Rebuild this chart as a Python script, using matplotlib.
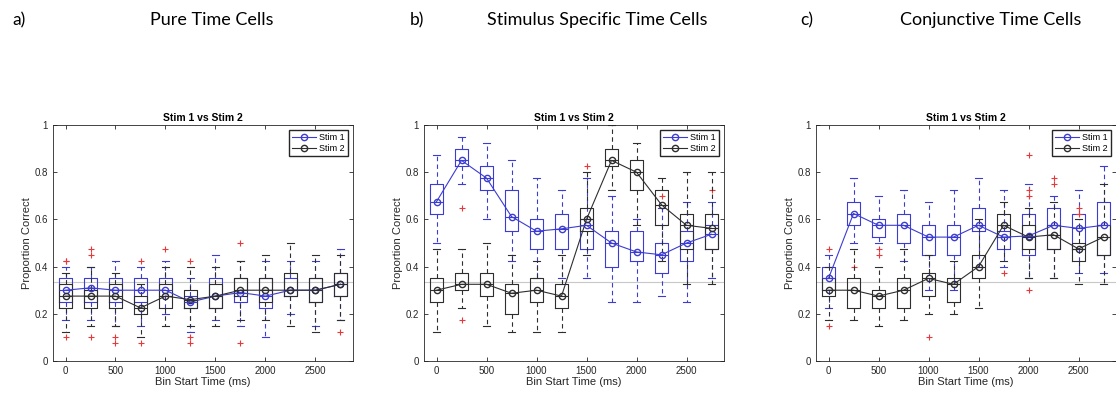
"""Stim 1 vs Stim 2 decoding boxplots for three time-cell groups."""
import matplotlib.pyplot as plt

BLUE = "#3c3cd2"
BLACK = "#2e2e2e"
RED = "#e8383d"
CHANCE = "#c8c8c8"

BINS = [0, 250, 500, 750, 1000, 1250, 1500, 1750, 2000, 2250, 2500, 2750]

# each bin: (whisker low, q1, median, q3, whisker high)
A_STIM1 = [(0.175, 0.25, 0.30, 0.35, 0.40), (0.175, 0.25, 0.31, 0.35, 0.40),
           (0.15, 0.25, 0.30, 0.35, 0.425), (0.15, 0.25, 0.30, 0.35, 0.40),
           (0.20, 0.275, 0.30, 0.35, 0.425), (0.125, 0.225, 0.25, 0.275, 0.35),
           (0.175, 0.225, 0.275, 0.35, 0.45), (0.15, 0.25, 0.29, 0.35, 0.425),
           (0.10, 0.225, 0.275, 0.35, 0.425), (0.20, 0.275, 0.30, 0.35, 0.425),
           (0.15, 0.25, 0.30, 0.35, 0.425), (0.175, 0.275, 0.325, 0.375, 0.475)]
A_STIM2 = [(0.125, 0.225, 0.275, 0.325, 0.375), (0.15, 0.225, 0.275, 0.30, 0.40),
           (0.15, 0.225, 0.275, 0.325, 0.375), (0.10, 0.20, 0.225, 0.275, 0.325),
           (0.15, 0.225, 0.275, 0.325, 0.40), (0.15, 0.225, 0.26, 0.30, 0.40),
           (0.15, 0.225, 0.275, 0.325, 0.40), (0.175, 0.275, 0.30, 0.35, 0.425),
           (0.175, 0.25, 0.30, 0.35, 0.45), (0.15, 0.275, 0.30, 0.375, 0.50),
           (0.125, 0.25, 0.30, 0.35, 0.45), (0.175, 0.275, 0.325, 0.375, 0.45)]
A_OUT1 = [[0.425], [0.45, 0.475], [], [0.425], [0.475], [0.075, 0.10],
          [], [0.50], [], [], [], []]
A_OUT2 = [[0.10, 0.425], [0.10], [0.075, 0.10], [0.075], [], [0.425],
          [], [0.075], [], [], [], [0.125]]

B_STIM1 = [(0.50, 0.625, 0.675, 0.75, 0.875), (0.75, 0.825, 0.85, 0.90, 0.95),
           (0.60, 0.725, 0.775, 0.825, 0.925), (0.425, 0.55, 0.612, 0.725, 0.85),
           (0.35, 0.475, 0.55, 0.60, 0.775), (0.35, 0.475, 0.56, 0.625, 0.725),
           (0.35, 0.475, 0.575, 0.60, 0.775), (0.25, 0.40, 0.50, 0.55, 0.70),
           (0.25, 0.425, 0.462, 0.55, 0.60), (0.275, 0.375, 0.45, 0.50, 0.65),
           (0.25, 0.425, 0.50, 0.55, 0.675), (0.35, 0.475, 0.537, 0.575, 0.675)]
B_STIM2 = [(0.125, 0.25, 0.30, 0.35, 0.475), (0.225, 0.30, 0.325, 0.375, 0.475),
           (0.15, 0.275, 0.325, 0.375, 0.50), (0.125, 0.20, 0.287, 0.325, 0.45),
           (0.125, 0.25, 0.30, 0.35, 0.425), (0.125, 0.225, 0.275, 0.325, 0.45),
           (0.45, 0.55, 0.60, 0.65, 0.80), (0.725, 0.825, 0.85, 0.90, 1.0),
           (0.575, 0.725, 0.80, 0.85, 0.925), (0.425, 0.575, 0.662, 0.725, 0.775),
           (0.325, 0.475, 0.575, 0.625, 0.80), (0.325, 0.475, 0.562, 0.625, 0.80)]
B_OUT1 = [[], [0.65], [], [], [], [], [], [], [], [0.70], [], [0.725]]
B_OUT2 = [[], [0.175], [], [], [], [], [0.825], [], [], [], [], []]

C_STIM1 = [(0.225, 0.30, 0.35, 0.40, 0.45), (0.50, 0.575, 0.625, 0.675, 0.775),
           (0.50, 0.525, 0.575, 0.60, 0.70), (0.425, 0.50, 0.575, 0.625, 0.725),
           (0.30, 0.45, 0.525, 0.575, 0.675), (0.30, 0.45, 0.525, 0.575, 0.725),
           (0.40, 0.55, 0.575, 0.65, 0.775), (0.40, 0.475, 0.525, 0.55, 0.725),
           (0.35, 0.45, 0.53, 0.625, 0.75), (0.35, 0.475, 0.575, 0.65, 0.70),
           (0.375, 0.475, 0.562, 0.625, 0.725), (0.375, 0.45, 0.575, 0.675, 0.825)]
C_STIM2 = [(0.175, 0.275, 0.30, 0.35, 0.40), (0.175, 0.225, 0.30, 0.35, 0.475),
           (0.15, 0.225, 0.275, 0.30, 0.40), (0.175, 0.225, 0.30, 0.35, 0.475),
           (0.20, 0.275, 0.35, 0.375, 0.45), (0.20, 0.25, 0.325, 0.35, 0.425),
           (0.225, 0.35, 0.40, 0.45, 0.60), (0.425, 0.525, 0.575, 0.625, 0.675),
           (0.35, 0.475, 0.525, 0.575, 0.65), (0.35, 0.475, 0.535, 0.575, 0.675),
           (0.325, 0.425, 0.475, 0.50, 0.60), (0.325, 0.45, 0.525, 0.575, 0.75)]
C_OUT1 = [[0.475], [0.40], [0.45, 0.475], [], [], [], [], [0.375], [0.875],
          [0.75, 0.775], [], []]
C_OUT2 = [[0.15], [], [], [], [0.10], [], [], [], [0.30, 0.70, 0.725], [],
          [0.625, 0.65], []]

PANELS = [
    ("a)", "Pure Time Cells", A_STIM1, A_STIM2, A_OUT1, A_OUT2),
    ("b)", "Stimulus Specific Time Cells", B_STIM1, B_STIM2, B_OUT1, B_OUT2),
    ("c)", "Conjunctive Time Cells", C_STIM1, C_STIM2, C_OUT1, C_OUT2),
]

W, H = 1116, 395
AX_LEFT = [53, 424, 816]
LETTER_X = [12, 410, 800]
HEADER_X = [212, 597, 991]

fig = plt.figure(figsize=(W / 100, H / 100), dpi=100)
plt.rcParams["font.family"] = ["Liberation Sans", "DejaVu Sans"]


def draw_boxes(ax, boxes, outliers, color):
    stats = [dict(whislo=b[0], q1=b[1], med=b[2], q3=b[3], whishi=b[4],
                  fliers=o) for b, o in zip(boxes, outliers)]
    ax.bxp(stats, positions=BINS, widths=125, capwidths=62,
           showfliers=True, manage_ticks=False,
           boxprops=dict(color=color, linewidth=0.8),
           medianprops=dict(color=color, linewidth=0.8),
           whiskerprops=dict(color=color, linewidth=0.8, linestyle=(0, (4, 3))),
           capprops=dict(color=color, linewidth=0.8),
           flierprops=dict(marker="+", markeredgecolor=RED, markersize=5,
                           markeredgewidth=0.8, linestyle="none"))


for i, (letter, header, s1, s2, o1, o2) in enumerate(PANELS):
    ax = fig.add_axes([AX_LEFT[i] / W, 34 / H, 300 / W, 236 / H])
    ax.axhline(1 / 3, color=CHANCE, linewidth=0.8, zorder=0)
    draw_boxes(ax, s1, o1, BLUE)
    draw_boxes(ax, s2, o2, BLACK)
    ax.plot(BINS, [b[2] for b in s1], "-o", color=BLUE, mfc="none",
            markersize=4.5, linewidth=0.8, label="Stim 1")
    ax.plot(BINS, [b[2] for b in s2], "-o", color=BLACK, mfc="none",
            markersize=4.5, linewidth=0.8, label="Stim 2")

    ax.set_xlim(-125, 2875)
    ax.set_ylim(0, 1)
    ax.set_xticks([0, 500, 1000, 1500, 2000, 2500])
    ax.set_yticks([0, 0.2, 0.4, 0.6, 0.8, 1])
    ax.set_yticklabels(["0", "0.2", "0.4", "0.6", "0.8", "1"])
    ax.tick_params(direction="in", top=True, right=True, length=3,
                   width=0.6, labelsize=7, colors="#262626")
    for sp in ax.spines.values():
        sp.set_linewidth(0.6)
        sp.set_color("#262626")
    ax.set_title("Stim 1 vs Stim 2", fontsize=7.5, fontweight="bold", pad=3)
    ax.set_xlabel("Bin Start Time (ms)", fontsize=8, labelpad=1, color="#262626")
    ax.set_ylabel("Proportion Correct", fontsize=8, labelpad=2, color="#262626")
    ax.legend(loc="upper right", fontsize=6.5, fancybox=False, framealpha=1,
              edgecolor="#262626", handlelength=2.6, borderpad=0.3,
              labelspacing=0.2, handletextpad=0.4, borderaxespad=0.6)

    fig.text(LETTER_X[i] / W, 1 - 20 / H, letter, fontsize=12.5,
             family=["Lato", "DejaVu Sans"], va="center")
    fig.text(HEADER_X[i] / W, 1 - 20 / H, header, fontsize=13,
             family=["Lato", "DejaVu Sans"], va="center", ha="center")

fig.savefig("out.png", dpi=100)
